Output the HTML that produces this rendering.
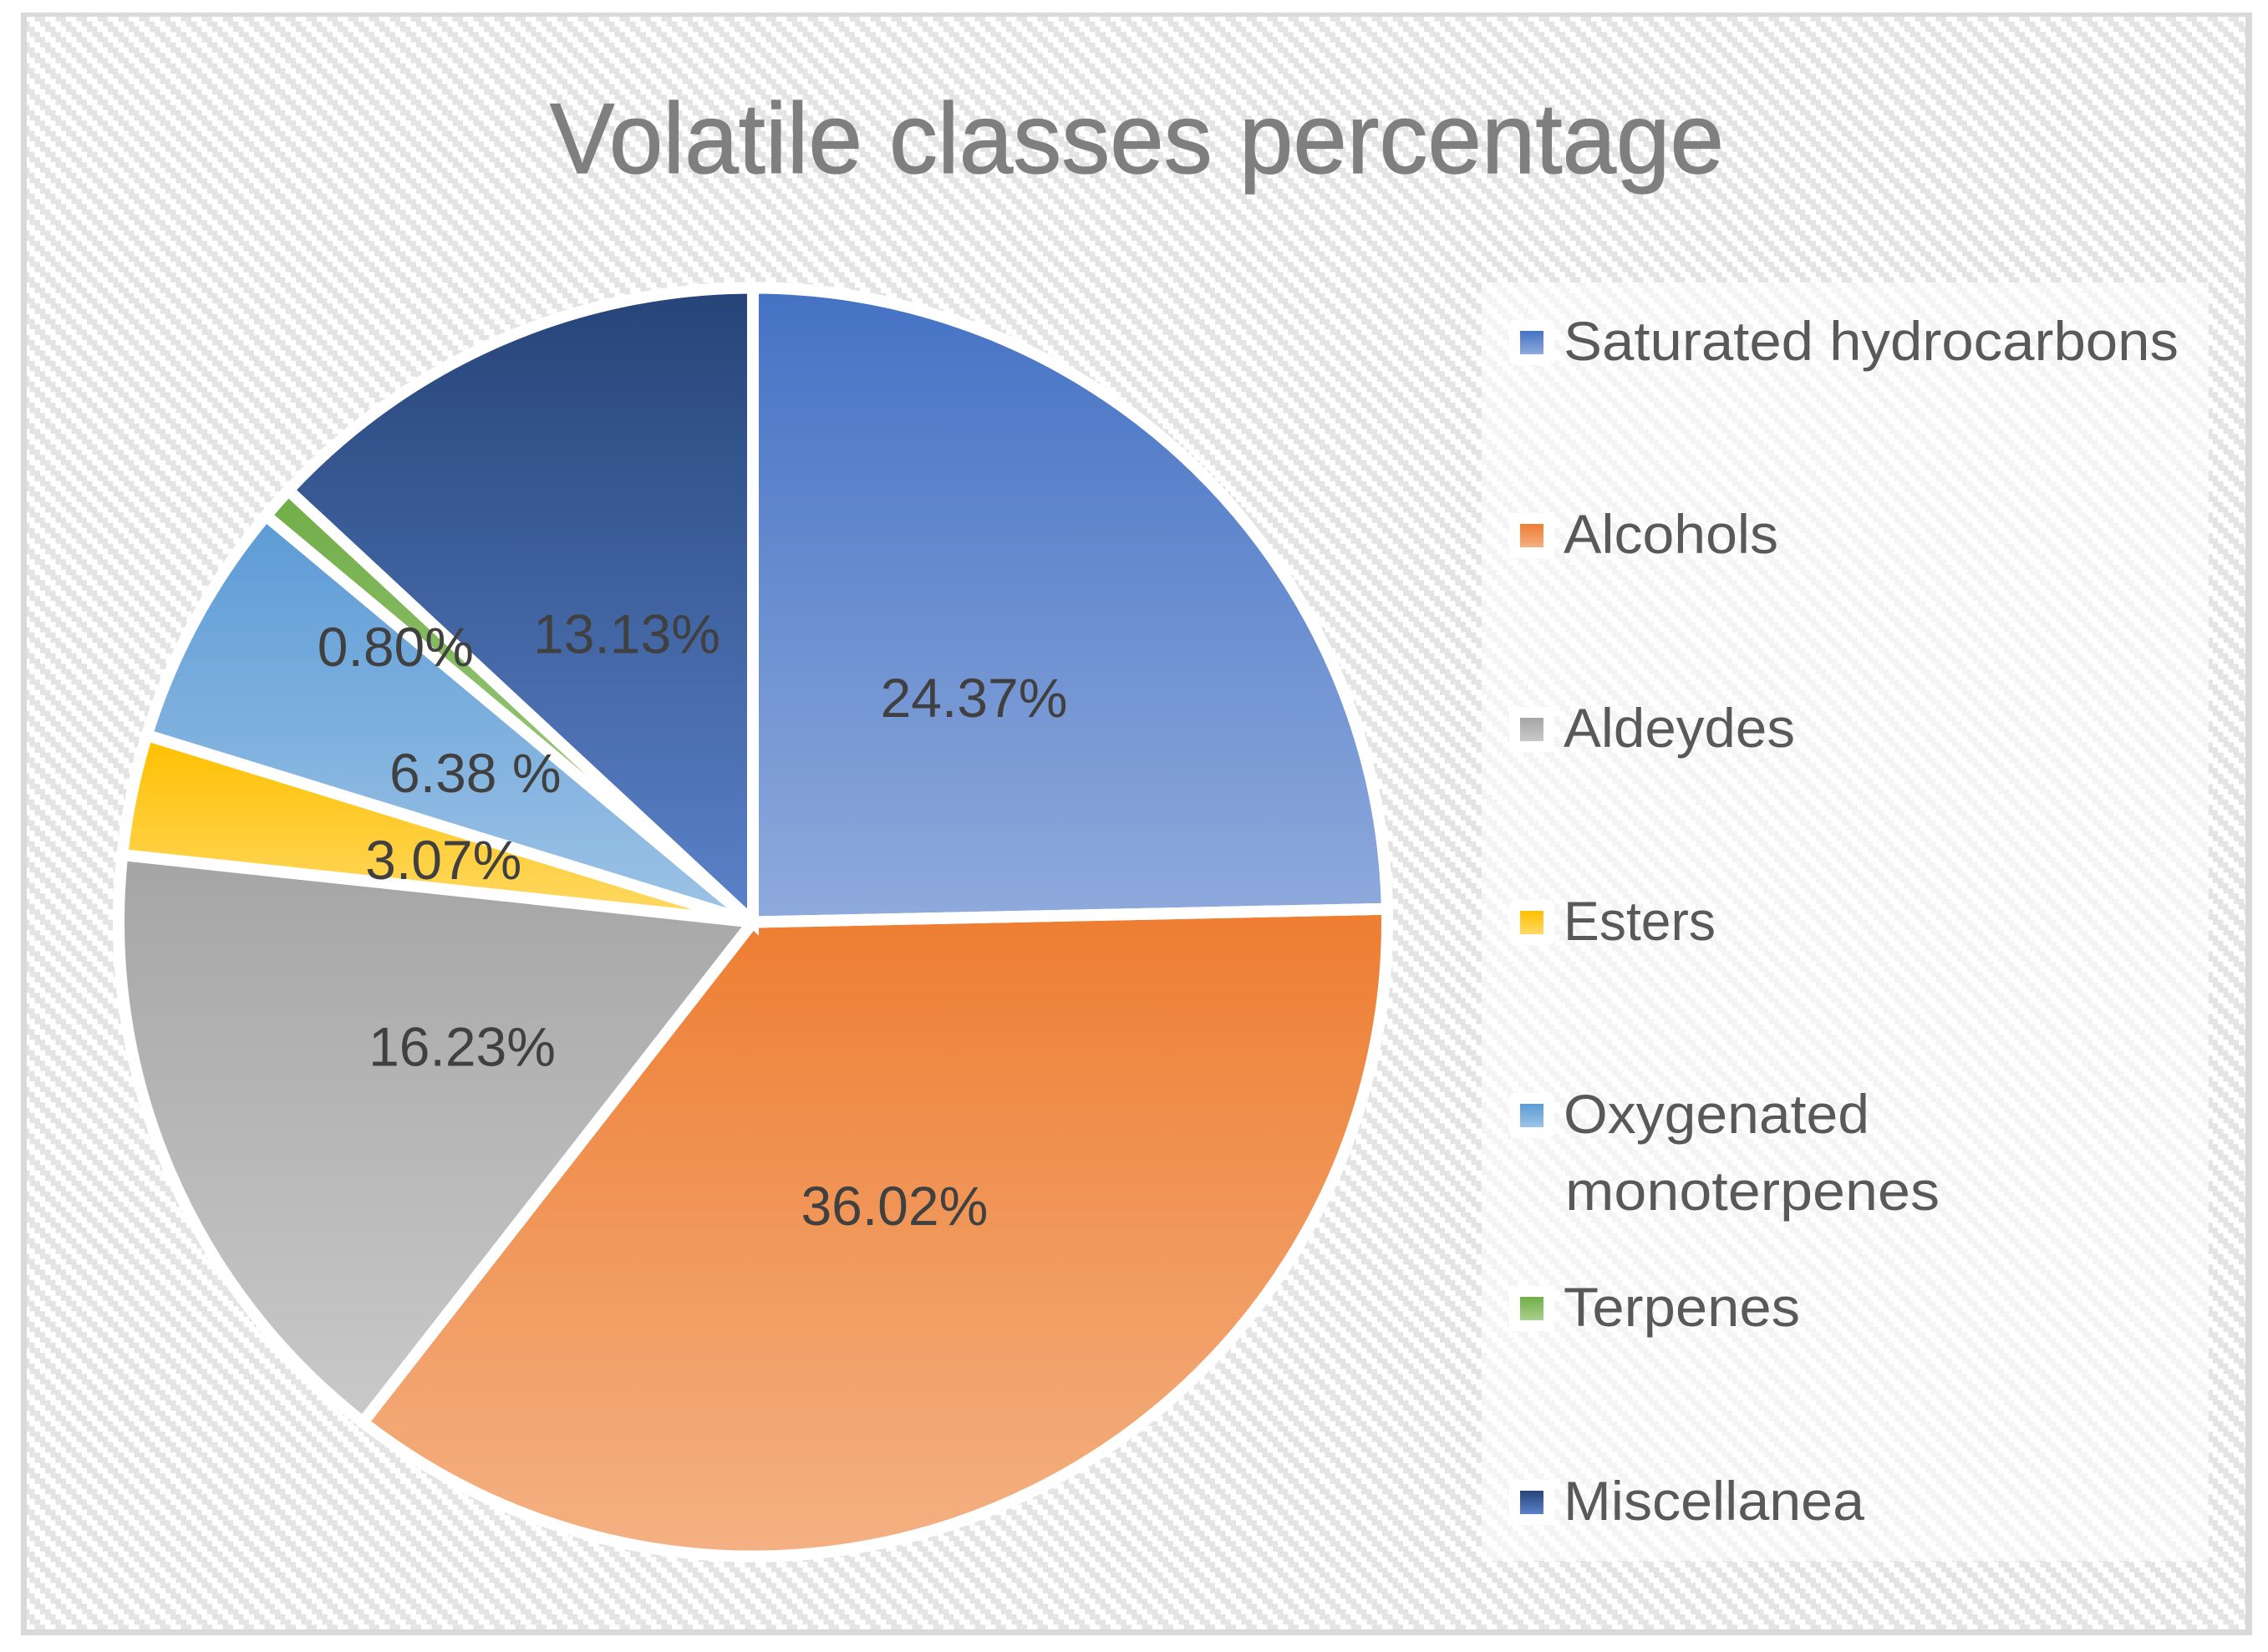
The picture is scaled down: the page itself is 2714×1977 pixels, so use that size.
<!DOCTYPE html>
<html lang="en">
<head>
<meta charset="utf-8">
<title>Volatile classes percentage</title>
<style>
  html, body { margin: 0; padding: 0; background: #ffffff; }
  svg { display: block; font-family: "Liberation Sans", sans-serif; }
  .legend-text { font-size: 66px; fill: #595959; }
  .value-label { font-size: 66px; fill: #404040; text-anchor: middle; }
</style>
</head>
<body>
<svg id="chart" xmlns="http://www.w3.org/2000/svg" width="2714" height="1977" viewBox="0 0 2714 1977">
  <defs>
    <pattern id="wide-diagonal" patternUnits="userSpaceOnUse" x="29" y="6.75" width="25" height="25">
      <rect x="0" y="0" width="25" height="25" fill="#ffffff"/>
      <g fill="#e4e4e4" shape-rendering="crispEdges">
        <rect x="0" y="0" width="12.5" height="6.25"/>
        <rect x="6.25" y="6.25" width="12.5" height="6.25"/>
        <rect x="12.5" y="12.5" width="12.5" height="6.25"/>
        <rect x="18.75" y="18.75" width="6.25" height="6.25"/>
        <rect x="0" y="18.75" width="6.25" height="6.25"/>
      </g>
    </pattern>
    <linearGradient id="grad-0" x1="0" y1="0" x2="0" y2="1"><stop offset="0" stop-color="#4472c4"/><stop offset="1" stop-color="#8faadc"/></linearGradient>
    <linearGradient id="grad-1" x1="0" y1="0" x2="0" y2="1"><stop offset="0" stop-color="#ed7d31"/><stop offset="1" stop-color="#f4b183"/></linearGradient>
    <linearGradient id="grad-2" x1="0" y1="0" x2="0" y2="1"><stop offset="0" stop-color="#a5a5a5"/><stop offset="1" stop-color="#c9c9c9"/></linearGradient>
    <linearGradient id="grad-3" x1="0" y1="0" x2="0" y2="1"><stop offset="0" stop-color="#ffc000"/><stop offset="1" stop-color="#ffd966"/></linearGradient>
    <linearGradient id="grad-4" x1="0" y1="0" x2="0" y2="1"><stop offset="0" stop-color="#5b9bd5"/><stop offset="1" stop-color="#9dc3e6"/></linearGradient>
    <linearGradient id="grad-5" x1="0" y1="0" x2="0" y2="1"><stop offset="0" stop-color="#70ad47"/><stop offset="1" stop-color="#a9d18e"/></linearGradient>
    <linearGradient id="grad-6" x1="0" y1="0" x2="0" y2="1"><stop offset="0" stop-color="#264478"/><stop offset="1" stop-color="#5b82c9"/></linearGradient>
  </defs>

  <rect x="25" y="15" width="2670" height="1942" fill="#d9d9d9"/>
  <rect x="32" y="20" width="2655" height="1930" fill="url(#wide-diagonal)"/>

  <text x="658" y="207" font-size="120" fill="#7f7f7f" stroke="#7f7f7f" stroke-width="1.2" textLength="1405" lengthAdjust="spacingAndGlyphs">Volatile classes percentage</text>

  <rect x="1773" y="338" width="870" height="1530" fill="#ffffff" fill-opacity="0.6"/>

  <g>
    <g>
      <rect x="1806" y="383" width="54" height="54" rx="7" fill="#ffffff"/>
      <rect x="1819" y="396" width="28" height="28" fill="url(#grad-0)"/>
      <text class="legend-text" x="1871" y="431" textLength="736" lengthAdjust="spacingAndGlyphs">Saturated hydrocarbons</text>
    </g>
    <g>
      <rect x="1806" y="614" width="54" height="54" rx="7" fill="#ffffff"/>
      <rect x="1819" y="627" width="28" height="28" fill="url(#grad-1)"/>
      <text class="legend-text" x="1871" y="662" textLength="257" lengthAdjust="spacingAndGlyphs">Alcohols</text>
    </g>
    <g>
      <rect x="1806" y="846" width="54" height="54" rx="7" fill="#ffffff"/>
      <rect x="1819" y="859" width="28" height="28" fill="url(#grad-2)"/>
      <text class="legend-text" x="1871" y="894" textLength="277" lengthAdjust="spacingAndGlyphs">Aldeydes</text>
    </g>
    <g>
      <rect x="1806" y="1077" width="54" height="54" rx="7" fill="#ffffff"/>
      <rect x="1819" y="1090" width="28" height="28" fill="url(#grad-3)"/>
      <text class="legend-text" x="1871" y="1125" textLength="182" lengthAdjust="spacingAndGlyphs">Esters</text>
    </g>
    <g>
      <rect x="1806" y="1308" width="54" height="54" rx="7" fill="#ffffff"/>
      <rect x="1819" y="1321" width="28" height="28" fill="url(#grad-4)"/>
      <text class="legend-text" x="1871" y="1356" textLength="366" lengthAdjust="spacingAndGlyphs">Oxygenated</text>
      <text class="legend-text" x="1873" y="1448" textLength="448" lengthAdjust="spacingAndGlyphs">monoterpenes</text>
    </g>
    <g>
      <rect x="1806" y="1539" width="54" height="54" rx="7" fill="#ffffff"/>
      <rect x="1819" y="1552" width="28" height="28" fill="url(#grad-5)"/>
      <text class="legend-text" x="1871" y="1587" textLength="283" lengthAdjust="spacingAndGlyphs">Terpenes</text>
    </g>
    <g>
      <rect x="1806" y="1771" width="54" height="54" rx="7" fill="#ffffff"/>
      <rect x="1819" y="1784" width="28" height="28" fill="url(#grad-6)"/>
      <text class="legend-text" x="1871" y="1819" textLength="360" lengthAdjust="spacingAndGlyphs">Miscellanea</text>
    </g>
  </g>

  <g id="pie-fills"></g>
  <g id="pie-outlines"></g>
  <g id="pie-labels"></g>
</svg>

<script>
const categories = ['saturated-hydrocarbons', 'alcohols', 'aldeydes', 'esters', 'oxygenated-monoterpenes', 'terpenes', 'miscellanea'];
const values = [24.67, 35.87, 16.15, 3.07, 6.31, 0.85, 13.08];
const valueLabels = ['24.37%', '36.02%', '16.23%', '3.07%', '6.38 %', '0.80%', '13.13%'];

const SVG_NS = 'http://www.w3.org/2000/svg';
const CX = 901;
const CY = 1103.5;
const RADIUS = 759;
const LABEL_RADIUS = 378;
const total = values.reduce(function (sum, v) { return sum + v; }, 0);

function angleOf(cumulative) {
  return (cumulative / total) * 2 * Math.PI;
}
function px(angle, r) {
  return CX + r * Math.sin(angle);
}
function py(angle, r) {
  return CY - r * Math.cos(angle);
}
function slicePath(a0, a1) {
  const large = a1 - a0 > Math.PI ? 1 : 0;
  return 'M' + CX + ' ' + CY +
    'L' + px(a0, RADIUS) + ' ' + py(a0, RADIUS) +
    'A' + RADIUS + ' ' + RADIUS + ' 0 ' + large + ' 1 ' + px(a1, RADIUS) + ' ' + py(a1, RADIUS) + 'Z';
}

const fillGroup = document.getElementById('pie-fills');
const outlineGroup = document.getElementById('pie-outlines');
const labelGroup = document.getElementById('pie-labels');

let running = 0;
values.forEach(function (value, i) {
  const a0 = angleOf(running);
  running += value;
  const a1 = angleOf(running);
  const d = slicePath(a0, a1);

  const slice = document.createElementNS(SVG_NS, 'path');
  
  
  slice.setAttribute('d', d);
  slice.setAttribute('fill', 'url(#grad-' + i + ')');
  fillGroup.appendChild(slice);

  const outline = document.createElementNS(SVG_NS, 'path');
  
  
  outline.setAttribute('d', d);
  outline.setAttribute('fill', 'none');
  outline.setAttribute('stroke', '#ffffff');
  outline.setAttribute('stroke-width', '14');
  outline.setAttribute('stroke-linejoin', 'miter');
  outline.setAttribute('stroke-miterlimit', '4');
  outlineGroup.appendChild(outline);

  const mid = (a0 + a1) / 2;
  const nudged = categories[i] === 'terpenes';
  const label = document.createElementNS(SVG_NS, 'text');
  
  
  label.setAttribute('class', 'value-label');
  label.setAttribute('x', px(mid, LABEL_RADIUS) + (nudged ? -144 : 0));
  label.setAttribute('y', py(mid, LABEL_RADIUS) + 24.6 + (nudged ? -81 : 0));
  label.textContent = valueLabels[i];
  labelGroup.appendChild(label);
});
</script>
</body>
</html>
